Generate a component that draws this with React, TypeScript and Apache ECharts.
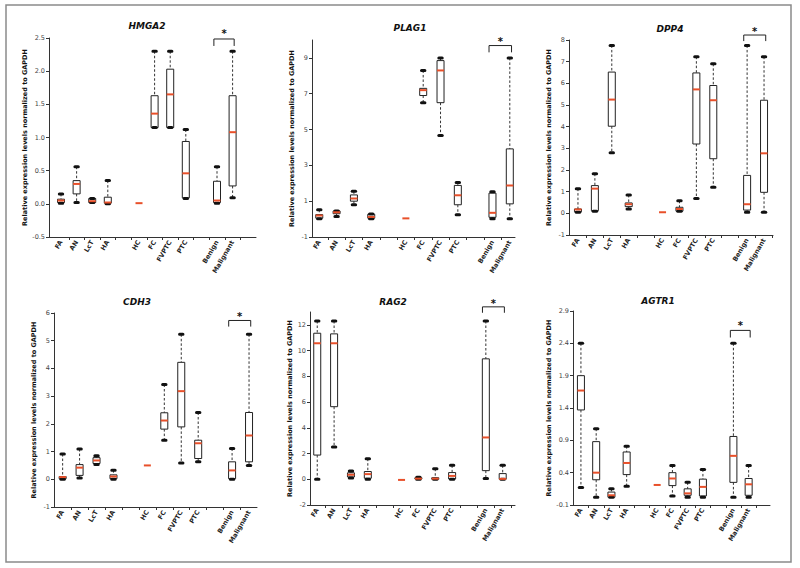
import React, { useEffect, useRef } from "react";
import * as echarts from "echarts";

// Group names and their positions on the x axis (gaps between groups)
const categories = ["FA", "AN", "LcT", "HA", "HC", "FC", "FVPTC", "PTC", "Benign", "Malignant"];
const positions = [1, 2, 3, 4, 6, 7, 8, 9, 11, 12];
const xTickPositions = [1.5, 2.5, 3.5, 4.5, 5.5, 6.5, 7.5, 8.5, 9.5, 10.5, 11.5, 12.5];

const yAxisTitle = "Relative expression levels normalized to GAPDH";
const genes = ["HMGA2", "PLAG1", "DPP4", "CDH3", "RAG2", "AGTR1"];

// Each entry: [min, Q1, median, Q3, max] in the order of `categories`
const hmga2 = [
  [0.01, 0.02, 0.05, 0.07, 0.15],
  [0.02, 0.15, 0.3, 0.35, 0.56],
  [0.02, 0.02, 0.04, 0.08, 0.08],
  [0.0, 0.01, 0.02, 0.1, 0.35],
  [0.01, 0.01, 0.01, 0.01, 0.01],
  [1.15, 1.15, 1.36, 1.63, 2.3],
  [1.15, 1.15, 1.65, 2.03, 2.3],
  [0.08, 0.09, 0.46, 0.94, 1.12],
  [0.01, 0.02, 0.05, 0.34, 0.56],
  [0.09, 0.27, 1.08, 1.63, 2.3],
];
const plag1 = [
  [0.02, 0.05, 0.2, 0.25, 0.52],
  [0.15, 0.3, 0.38, 0.45, 0.45],
  [0.8, 1.0, 1.15, 1.35, 1.55],
  [0.02, 0.05, 0.12, 0.27, 0.28],
  [0.04, 0.04, 0.04, 0.04, 0.04],
  [6.5, 6.9, 7.2, 7.3, 8.3],
  [4.67, 6.5, 8.3, 8.85, 9.0],
  [0.24, 0.8, 1.33, 1.88, 2.05],
  [0.02, 0.1, 0.35, 1.45, 1.52],
  [0.02, 0.85, 1.87, 3.92, 9.0],
];
const dpp4 = [
  [0.05, 0.07, 0.18, 0.2, 1.14],
  [0.1, 0.12, 1.14, 1.28, 1.83],
  [2.8, 4.02, 5.25, 6.52, 7.75],
  [0.2, 0.31, 0.42, 0.48, 0.85],
  [0.05, 0.05, 0.05, 0.05, 0.05],
  [0.1, 0.1, 0.2, 0.28, 0.58],
  [0.68, 3.2, 5.72, 6.48, 7.23],
  [1.2, 2.52, 5.22, 5.9, 6.9],
  [0.05, 0.15, 0.42, 1.75, 7.75],
  [0.05, 0.97, 2.77, 5.22, 7.23],
];
const cdh3 = [
  [0.0, 0.02, 0.08, 0.1, 0.91],
  [0.05, 0.14, 0.42, 0.53, 1.09],
  [0.53, 0.57, 0.68, 0.78, 0.85],
  [0.0, 0.02, 0.1, 0.16, 0.33],
  [0.5, 0.5, 0.5, 0.5, 0.5],
  [1.41, 1.81, 2.12, 2.4, 3.42],
  [0.59, 1.89, 3.18, 4.22, 5.23],
  [0.63, 0.75, 1.3, 1.41, 2.41],
  [0.0, 0.02, 0.32, 0.63, 1.11],
  [0.5, 0.63, 1.58, 2.41, 5.23],
];
const rag2 = [
  [0.0, 1.88, 10.57, 11.35, 12.3],
  [2.5, 5.64, 10.57, 11.3, 12.3],
  [0.1, 0.18, 0.35, 0.5, 0.64],
  [0.0, 0.08, 0.4, 0.6, 1.6],
  [-0.05, -0.05, -0.05, -0.05, -0.05],
  [0.0, 0.02, 0.05, 0.12, 0.16],
  [0.0, 0.0, 0.05, 0.12, 0.82],
  [0.0, 0.02, 0.26, 0.52, 1.08],
  [0.05, 0.67, 3.25, 9.36, 12.3],
  [0.0, 0.0, 0.03, 0.44, 1.08],
];
const agtr1 = [
  [0.17, 1.37, 1.67, 1.9, 2.4],
  [0.02, 0.29, 0.4, 0.88, 1.08],
  [0.02, 0.02, 0.05, 0.1, 0.15],
  [0.19, 0.37, 0.55, 0.72, 0.81],
  [0.21, 0.21, 0.21, 0.21, 0.21],
  [0.04, 0.2, 0.31, 0.4, 0.51],
  [0.02, 0.05, 0.08, 0.15, 0.25],
  [0.02, 0.04, 0.18, 0.3, 0.45],
  [0.02, 0.25, 0.66, 0.96, 2.4],
  [0.02, 0.05, 0.22, 0.31, 0.51],
];

// y-axis tick labels per panel
const hmga2Ticks = [-0.5, 0, 0.5, 1, 1.5, 2, 2.5];
const plag1Ticks = [-1, 1, 3, 5, 7, 9];
const dpp4Ticks = [-1, 0, 1, 2, 3, 4, 5, 6, 7, 8];
const cdh3Ticks = [-1, 0, 1, 2, 3, 4, 5, 6];
const rag2Ticks = [-2, 0, 2, 4, 6, 8, 10, 12];
const agtr1Ticks = [-0.1, 0.4, 0.9, 1.4, 1.9, 2.4, 2.9];

// Significance bracket Benign vs Malignant: [leg bottom, bracket top, star]
const hmga2Sig = [2.38, 2.485, 2.6];
const plag1Sig = [9.31, 9.69, 10.05];
const dpp4Sig = [7.95, 8.23, 8.5];
const cdh3Sig = [5.51, 5.73, 5.95];
const rag2Sig = [12.94, 13.4, 13.85];
const agtr1Sig = [2.49, 2.6, 2.7];

const FONT = "DejaVu Sans";

const panels = [
  { data: hmga2, ticks: hmga2Ticks, dec: 1, sig: hmga2Sig, yMin: -0.5, yMax: 2.5, xMin: 0.23, xMax: 13.5, grid: { left: 49, top: 38, width: 207, height: 199 }, tx: 147, ty: 26 },
  { data: plag1, ticks: plag1Ticks, dec: 0, sig: plag1Sig, yMin: -1, yMax: 10, xMin: 0.58, xMax: 12.3, grid: { left: 312, top: 40, width: 203, height: 197 }, tx: 410, ty: 28 },
  { data: dpp4, ticks: dpp4Ticks, dec: 0, sig: dpp4Sig, yMin: -1, yMax: 8, xMin: 0.47, xMax: 12.53, grid: { left: 569, top: 40, width: 204, height: 195 }, tx: 670, ty: 29 },
  { data: cdh3, ticks: cdh3Ticks, dec: 0, sig: cdh3Sig, yMin: -1, yMax: 6, xMin: 0.49, xMax: 12.47, grid: { left: 54, top: 313, width: 203, height: 194 }, tx: 137, ty: 302 },
  { data: rag2, ticks: rag2Ticks, dec: 0, sig: rag2Sig, yMin: -2, yMax: 13, xMin: 0.57, xMax: 12.73, grid: { left: 310, top: 312, width: 205, height: 193 }, tx: 393, ty: 302 },
  { data: agtr1, ticks: agtr1Ticks, dec: 1, sig: agtr1Sig, yMin: -0.1, yMax: 2.9, xMin: 0.48, xMax: 13.4, grid: { left: 573, top: 311, width: 197, height: 194 }, tx: 658, ty: 301 },
];

const nameAt = (v: number) => {
  const i = positions.findIndex((p) => Math.abs(p - v) < 1e-6);
  return i >= 0 ? categories[i] : "";
};

const boxRender = (params: any, api: any) => {
  const x = api.value(0);
  const lo = api.value(1), q1 = api.value(2), med = api.value(3), q3 = api.value(4), hi = api.value(5);
  const pLo = api.coord([x, lo]);
  const pQ1 = api.coord([x, q1]);
  const pMed = api.coord([x, med]);
  const pQ3 = api.coord([x, q3]);
  const pHi = api.coord([x, hi]);
  const cx = pMed[0];
  const hw = 3.5;
  const children: any[] = [];
  const flat = Math.abs(hi - lo) < 1e-9;
  if (!flat) {
    if (pHi[1] < pQ3[1] - 0.5) {
      children.push({ type: "line", shape: { x1: cx, y1: pHi[1], x2: cx, y2: pQ3[1] }, style: { stroke: "#333", lineWidth: 1, lineDash: [2.5, 2] } });
    }
    if (pLo[1] > pQ1[1] + 0.5) {
      children.push({ type: "line", shape: { x1: cx, y1: pQ1[1], x2: cx, y2: pLo[1] }, style: { stroke: "#333", lineWidth: 1, lineDash: [2.5, 2] } });
    }
    children.push({ type: "rect", shape: { x: cx - hw, y: pQ3[1], width: hw * 2, height: Math.max(pQ1[1] - pQ3[1], 0.5) }, style: { fill: "#fff", stroke: "#222", lineWidth: 1 } });
    children.push({ type: "rect", shape: { x: cx - 3.2, y: pHi[1] - 1.5, width: 6.4, height: 3, r: 1.5 }, style: { fill: "#111" } });
    children.push({ type: "rect", shape: { x: cx - 3.2, y: pLo[1] - 1.5, width: 6.4, height: 3, r: 1.5 }, style: { fill: "#111" } });
  }
  children.push({ type: "rect", shape: { x: cx - hw, y: pMed[1] - 1, width: hw * 2, height: 2 }, style: { fill: "#e8502a" } });
  return { type: "group", children };
};

const bracketRender = (params: any, api: any) => {
  const x1 = api.value(0), x2 = api.value(1);
  const leg = api.value(2), top = api.value(3), star = api.value(4);
  const a = api.coord([x1, leg]);
  const b = api.coord([x1, top]);
  const c = api.coord([x2, top]);
  const d = api.coord([x2, leg]);
  const s = api.coord([(x1 + x2) / 2, star]);
  return {
    type: "group",
    children: [
      { type: "polyline", shape: { points: [a, b, c, d] }, style: { stroke: "#222", lineWidth: 1, fill: "none" } },
      { type: "text", x: s[0], y: s[1] + 2, style: { text: "*", fill: "#111", font: `bold 10px '${FONT}'`, align: "center", verticalAlign: "middle" } },
    ],
  };
};

const buildOption = () => {
  const grids = panels.map((p) => ({ ...p.grid, containLabel: false }));
  const xAxes = panels.map((p, i) => ({
    type: "value",
    gridIndex: i,
    min: p.xMin,
    max: p.xMax,
    axisLine: { show: true, onZero: false, lineStyle: { color: "#333", width: 1 } },
    axisTick: { show: true, customValues: xTickPositions, length: 3, lineStyle: { color: "#333" } },
    axisLabel: {
      customValues: positions,
      formatter: (v: number) => nameAt(v),
      rotate: 60,
      margin: 4,
      fontSize: 6.5,
      fontWeight: "bold",
      color: "#222",
      fontFamily: FONT,
    },
    splitLine: { show: false },
  }));
  const yAxes = panels.map((p, i) => ({
    type: "value",
    gridIndex: i,
    min: p.yMin,
    max: p.yMax,
    name: yAxisTitle,
    nameLocation: "middle",
    nameGap: 17,
    nameTextStyle: { fontSize: 6.5, fontWeight: "bold", color: "#111", fontFamily: FONT },
    axisLine: { show: true, onZero: false, lineStyle: { color: "#333", width: 1 } },
    axisTick: { show: true, customValues: p.ticks, length: 3, lineStyle: { color: "#333" } },
    axisLabel: {
      customValues: p.ticks,
      formatter: (v: number) => v.toFixed(p.dec),
      fontSize: 6.5,
      color: "#444",
      margin: 4,
      fontFamily: FONT,
    },
    splitLine: { show: false },
  }));
  const series: any[] = [];
  panels.forEach((p, i) => {
    series.push({
      type: "custom",
      xAxisIndex: i,
      yAxisIndex: i,
      renderItem: boxRender,
      encode: { x: 0, y: [1, 2, 3, 4, 5] },
      data: p.data.map((row, j) => [positions[j], ...row]),
      clip: false,
    });
    series.push({
      type: "custom",
      xAxisIndex: i,
      yAxisIndex: i,
      renderItem: bracketRender,
      encode: { x: [0, 1], y: [2, 3, 4] },
      data: [[positions[8] - 0.2, positions[9] + 0.1, p.sig[0], p.sig[1], p.sig[2]]],
      clip: false,
    });
  });
  const graphic: any[] = [
    { type: "rect", shape: { x: 6, y: 5, width: 785, height: 557 }, style: { fill: "none", stroke: "#8a8a8a", lineWidth: 1.5 }, silent: true },
    ...panels.map((p, i) => ({
      type: "text",
      x: p.tx,
      y: p.ty,
      style: { text: genes[i], font: `italic bold 9px '${FONT}'`, fill: "#111", align: "center", verticalAlign: "middle" },
    })),
  ];
  return {
    animation: false,
    backgroundColor: "#fff",
    textStyle: { fontFamily: FONT },
    grid: grids,
    xAxis: xAxes,
    yAxis: yAxes,
    series,
    graphic,
  };
};

export default function App() {
  const ref = useRef<HTMLDivElement>(null);
  useEffect(() => {
    const chart = echarts.init(ref.current as HTMLDivElement, null, { renderer: "svg" });
    chart.setOption(buildOption() as any);
    return () => chart.dispose();
  }, []);
  return (
    <div
      ref={ref}
      style={{ position: "fixed", left: 0, top: 0, width: 800, height: 568, background: "#fff" }}
    />
  );
}
